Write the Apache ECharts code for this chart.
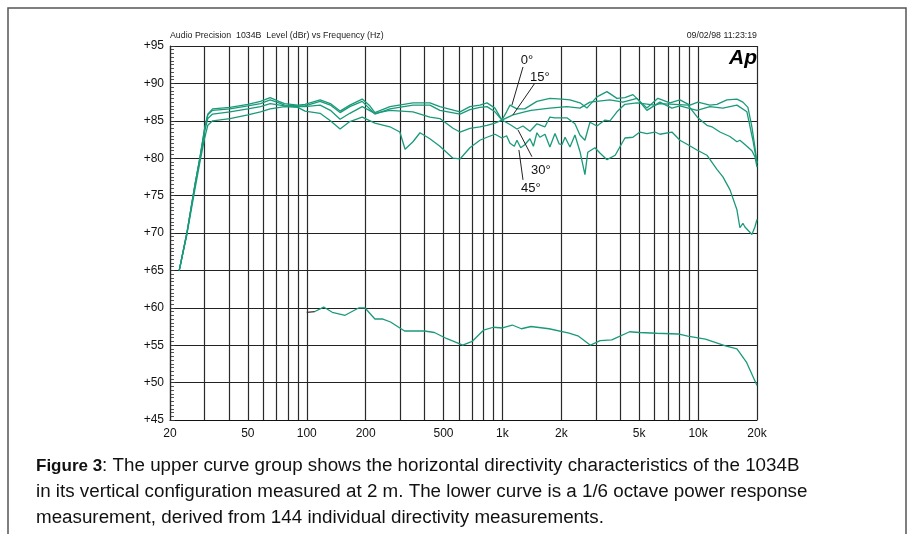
<!DOCTYPE html>
<html><head><meta charset="utf-8">
<script src="https://cdn.jsdelivr.net/npm/echarts@6/dist/echarts.min.js"></script>
<style>html,body{margin:0;padding:0;background:#fff}#c{width:914px;height:534px}</style>
</head><body><div id="c"></div>
<script>
// ---- axes / ticks ----
const gridFreqs = [20,30,40,50,60,70,80,90,100,200,300,400,500,600,700,800,900,1000,2000,3000,4000,5000,6000,7000,8000,9000,10000,20000];
const xTickValues = [20,50,100,200,500,1000,2000,5000,10000,20000];
const xTickTexts  = ['20','50','100','200','500','1k','2k','5k','10k','20k'];
const yMin = 45, yMax = 95, yStep = 5;

// ---- 0 degree ----
const freq0  = [22.3,24.4,26.8,28.5,30,31.2,33,40.5,50,58,65,72,77,90,98,117,132,148,166,192,210,223,266,349,426,479,607,682,767,834,916,994,1050,1093,1186,1300,1500,1748,2014,2214,2490,2702,3040,3420,3848,4226,4644,5042,5474,6232,7178,8072,9084,9978,11490,12480,14040,15792,16940,17970,18834,19512,20000];
const level0 = [65,70,76.4,80.2,83.8,85.9,86.6,86.8,87.2,87.6,88.1,87.6,87.3,87.1,87.2,87.8,87.3,86.3,87.1,87.9,87.0,86.1,86.9,87.4,87.4,86.9,86.2,86.9,87.1,87.4,86.7,85.1,86.2,87.1,86.6,86.6,87.6,88.0,87.9,87.8,87.4,86.7,88.2,88.9,88.0,88.1,88.5,87.6,86.7,88.0,87.4,87.8,87.1,87.5,87.1,87.2,87.8,87.9,87.5,86.8,84.2,81.5,79.3];
// ---- 15 degree ----
const freq15  = [22.3,24.4,26.8,28.5,30,31.2,33,40.5,50,58,65,72,77,90,98,117,132,148,166,192,223,266,349,426,479,607,682,767,834,916,994,1132,1300,1400,1748,2136,2490,2800,3544,4130,4868,5474,6378,7350,8072,9864,11490,13390,15792,17760,19056,20000];
const level15 = [65,70,76.4,80.2,83.8,85.8,86.4,86.6,87.0,87.3,87.8,87.4,87.1,87.0,87.0,87.6,87.1,86.1,86.9,87.6,85.9,86.6,87.1,87.1,86.4,85.9,86.5,86.8,86.9,86.2,85.1,85.8,86.2,86.4,86.7,86.9,86.7,87.5,87.8,87.5,88.0,86.4,87.5,86.7,87.0,86.4,86.9,86.7,87.1,86.2,82.4,79.3];
// ---- 30 degree ----
const freq30  = [22.3,24.4,26.8,28.5,30,31.2,33,40.5,50,58,65,77,90,98,117,132,148,166,192,223,266,349,426,479,559,607,682,767,834,916,994,1093,1186,1273,1382,1501,1650,1748,1856,2136,2347,2490,2640,2800,3040,3342,3544,3848,4226,4868,6016,6378,7614,8874,9978,11092,11764,12928,14540,15792,16356,17760,18834,19512,20000];
const level30 = [65,70,76.3,80.0,83.5,85.3,85.9,86.2,86.6,86.9,87.3,87.0,86.9,86.9,87.1,86.4,85.2,86.0,86.9,86.0,86.4,86.2,85.5,85.3,84.0,83.5,84.0,84.2,84.4,84.7,85.1,84.5,83.9,84.3,83.6,84.6,84.2,85.5,85.4,85.4,84.6,83.1,82.4,84.8,84.3,85.1,85.0,86.2,87.2,87.4,87.1,87.3,87.2,87.1,85.4,84.4,84.2,83.5,82.9,82.2,82.4,81.6,81.0,80.2,78.8];
// ---- 45 degree ----
const freq45  = [22.3,24.4,26.8,28.5,30,31.2,33,40.5,50,58,65,77,90,98,117,132,148,166,192,223,266,299,318,349,379,426,479,559,607,682,767,834,916,994,1050,1093,1150,1186,1240,1300,1382,1440,1501,1554,1650,1748,1856,1950,2014,2090,2214,2347,2490,2640,2730,2970,3150,3420,3770,4226,4644,5042,5474,6016,6378,7350,8072,8874,9864,11092,12480,13390,14540,15792,16356,16940,17352,18398,18834,19512,20000];
const level45 = [65,69.8,75.8,79.6,82.6,84.4,85.0,85.3,85.8,86.2,86.6,86.9,86.8,86.3,86.0,85.0,83.9,84.9,85.5,84.7,84.2,83.5,81.2,82.2,83.4,82.6,81.6,80.0,79.9,81.4,82.4,82.8,83.2,82.7,83.0,82.0,81.6,82.4,81.4,81.8,82.6,81.6,83.4,82.8,83.2,81.5,83.3,81.9,81.8,82.8,81.5,83.1,80.9,77.8,80.8,81.4,80.7,79.8,80.4,82.7,82.8,83.5,83.3,83.5,83.2,83.5,82.4,81.8,81.1,80.4,78.5,77.5,75.8,73.1,70.7,71.3,70.8,70.1,69.8,70.8,71.8];
// ---- power response (lower curve) ----
const freqP  = [110,122,135,157,185,198,223,245,268,316,360,400,449,517,627,700,800,900,1000,1123,1250,1400,1730,2190,2450,2817,3160,3620,4470,5000,6140,7900,8850,10900,13800,15800,17700,20000];
const levelP = [59.5,60.1,59.4,59.0,60.0,60.0,58.5,58.5,58.1,56.9,56.9,56.9,56.7,55.9,55.0,55.5,57.0,57.4,57.3,57.7,57.2,57.5,57.2,56.6,56.2,55.0,55.6,55.7,56.8,56.7,56.6,56.5,56.2,55.8,54.9,54.5,52.7,49.6];
const freqPStart  = [100,110];
const levelPStart = [59.4,59.5];

// ---- angle annotations: label position and leader (data coords) ----
const annText  = ['0°','15°','30°','45°'];
const annLabel = [[1334,93.1],[1554,90.85],[1572,78.4],[1398,76.0]];
const annFrom  = [[1274,92.2],[1466,90.05],[1415,80.2],[1274,77.1]];
const annTo    = [[1118,87.1],[1132,85.8],[1200,83.8],[1214,81.1]];

const teal = '#1a9a7a';
const FONT = '"Liberation Sans", Arial, Helvetica, sans-serif';
const pairs = (f, l) => f.map((v, i) => [v, l[i]]);

const chart = echarts.init(document.getElementById('c'), null, {renderer: 'canvas'});

function curve(name, f, l, color, w) {
  return {name, type: 'line', data: pairs(f, l), showSymbol: false, symbol: 'none',
    lineStyle: {color: color || teal, width: w || 1.3}, z: 5, silent: true, animation: false};
}

const option = {
  animation: false,
  backgroundColor: '#fff',
  grid: {left: 170, right: 157, top: 46, bottom: 114, containLabel: false},
  xAxis: {type: 'log', logBase: 10, min: 20, max: 20000,
    axisLine: {show: true, lineStyle: {color: '#111', width: 1.2}},
    axisTick: {show: false}, axisLabel: {show: false}, splitLine: {show: false}, minorTick: {show: false}},
  yAxis: {type: 'value', min: yMin, max: yMax, interval: yStep,
    axisLine: {show: true, lineStyle: {color: '#111', width: 1.2}},
    axisTick: {show: true, inside: true, length: 5, lineStyle: {color: '#333'}},
    minorTick: {show: true, splitNumber: 10, length: 4, lineStyle: {color: '#555', width: 1}},
    axisLabel: {formatter: v => '+' + v, color: '#111', fontSize: 12, fontFamily: FONT, margin: 6},
    splitLine: {show: true, lineStyle: {color: '#222', width: 1.2}}},
  series: [
    {type: 'line', data: [], z: 1, silent: true,
      markLine: {silent: true, symbol: 'none', animation: false,
        lineStyle: {color: '#2a2a2a', width: 1.2, type: 'solid'},
        data: gridFreqs.map(f => {
          const k = xTickValues.indexOf(f);
          return {xAxis: f,
            label: k >= 0 ? {show: true, position: 'start', formatter: xTickTexts[k], color: '#111', fontSize: 12, fontFamily: FONT, distance: 8}
                          : {show: false}};
        })}},
    curve('45°', freq45, level45),
    curve('30°', freq30, level30),
    curve('15°', freq15, level15),
    curve('0°', freq0, level0),
    curve('power', freqP, levelP),
    curve('power-start', freqPStart, levelPStart, '#333', 1.3)
  ]
};
chart.setOption(option);

const px = p => chart.convertToPixel({gridIndex: 0}, p);
const graphics = [
  {type: 'rect', shape: {x: 8, y: 8, width: 898, height: 600}, style: {fill: 'none', stroke: '#555', lineWidth: 1.5}, z: 0, silent: true},
  {type: 'text', x: 170, y: 36, style: {text: 'Audio Precision  1034B  Level (dBr) vs Frequency (Hz)', font: '8.8px ' + FONT, fill: '#222', textVerticalAlign: 'middle'}},
  {type: 'text', x: 757, y: 36, style: {text: '09/02/98 11:23:19', font: '8.8px ' + FONT, fill: '#222', textAlign: 'right', textVerticalAlign: 'middle'}},
  {type: 'text', x: 757, y: 58, style: {text: 'Ap', font: 'italic bold 21px ' + FONT, fill: '#000', textAlign: 'right', textVerticalAlign: 'middle'}, z: 10},
  {type: 'text', x: 36, y: 453, style: {
    text: '{b|Figure 3}: The upper curve group shows the horizontal directivity characteristics of the 1034B\nin its vertical configuration measured at 2 m. The lower curve is a 1/6 octave power response\nmeasurement, derived from 144 individual directivity measurements.',
    font: '18.8px ' + FONT, fill: '#111', lineHeight: 26,
    rich: {b: {fontWeight: 'bold', fontSize: 17, fontFamily: FONT, fill: '#111', lineHeight: 26}}}}
];
annText.forEach((t, i) => {
  const a = px(annFrom[i]), b = px(annTo[i]), c = px(annLabel[i]);
  graphics.push({type: 'line', shape: {x1: a[0], y1: a[1], x2: b[0], y2: b[1]}, style: {stroke: '#222', lineWidth: 1}, z: 10, silent: true});
  graphics.push({type: 'text', x: c[0], y: c[1], style: {text: t, font: '13px ' + FONT, fill: '#111', textAlign: 'center', textVerticalAlign: 'middle'}, z: 10});
});
chart.setOption({graphic: graphics});
</script>
</body></html>
